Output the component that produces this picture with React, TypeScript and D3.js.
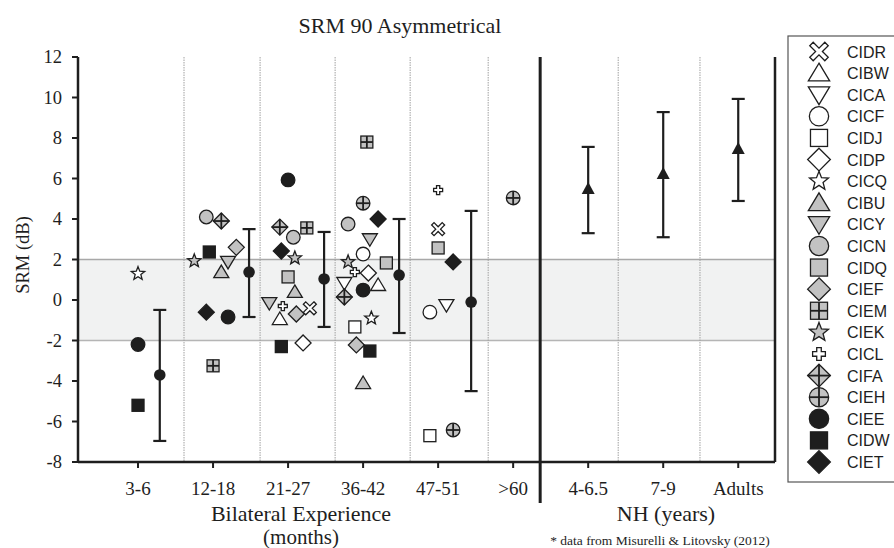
import React from 'react';
import * as d3 from 'd3';

// ---------- data ----------
const categories = ['3-6', '12-18', '21-27', '36-42', '47-51', '>60', '4-6.5', '7-9', 'Adults'];
const yTicks = [-8, -6, -4, -2, 0, 2, 4, 6, 8, 10, 12];
const subjects = ['CIDR', 'CIBW', 'CICA', 'CICF', 'CIDJ', 'CIDP', 'CICQ', 'CIBU', 'CICY', 'CICN',
  'CIDQ', 'CIEF', 'CIEM', 'CIEK', 'CICL', 'CIFA', 'CIEH', 'CIEE', 'CIDW', 'CIET'];
// [shape, fill-kind]
const subjectShapes: Record<string, [string, string]> = {
  CIDR: ['x', 'open'], CIBW: ['tri', 'open'], CICA: ['tridown', 'open'], CICF: ['circle', 'open'],
  CIDJ: ['square', 'open'], CIDP: ['diamond', 'open'], CICQ: ['star', 'open'], CIBU: ['tri', 'gray'],
  CICY: ['tridown', 'gray'], CICN: ['circle', 'gray'], CIDQ: ['square', 'gray'], CIEF: ['diamond', 'gray'],
  CIEM: ['squarecross', 'gray'], CIEK: ['star', 'gray'], CICL: ['plus', 'open'], CIFA: ['diamondcross', 'gray'],
  CIEH: ['circlecross', 'gray'], CIEE: ['circle', 'black'], CIDW: ['square', 'black'], CIET: ['diamond', 'black'],
};
// individual CI points: [subject, x position (category units), SRM dB]
const ciPoints: [string, number, number][] = [
  ['CICQ', 0.0, 1.3], ['CIEE', 0.0, -2.2], ['CIDW', 0.0, -5.2],
  ['CICN', 0.91, 4.1], ['CIFA', 1.11, 3.9], ['CIDW', 0.95, 2.37], ['CIEF', 1.31, 2.6], ['CIEK', 0.75, 1.93],
  ['CICY', 1.2, 1.88], ['CIBU', 1.11, 1.38], ['CIET', 0.91, -0.6], ['CIEE', 1.2, -0.84], ['CIEM', 1.0, -3.25],
  ['CIEE', 2.0, 5.93], ['CIFA', 1.89, 3.6], ['CIEM', 2.25, 3.56], ['CICN', 2.07, 3.1], ['CIET', 1.91, 2.42],
  ['CIEK', 2.09, 2.07], ['CIDQ', 2.0, 1.14], ['CIBU', 2.09, 0.4], ['CICY', 1.75, -0.15], ['CICL', 1.93, -0.3],
  ['CIDR', 2.29, -0.41], ['CIEF', 2.11, -0.69], ['CIBW', 1.89, -0.94], ['CIDW', 1.91, -2.3], ['CIDP', 2.2, -2.12],
  ['CIEM', 3.05, 7.8], ['CIEH', 3.0, 4.78], ['CIET', 3.2, 4.0], ['CICN', 2.8, 3.75], ['CICY', 3.09, 3.0],
  ['CICF', 3.0, 2.27], ['CIEK', 2.8, 1.88], ['CIDQ', 3.31, 1.83], ['CICL', 2.89, 1.38], ['CIDP', 3.07, 1.33],
  ['CIBW', 3.2, 0.74], ['CIEE', 3.0, 0.49], ['CICA', 2.75, 0.84], ['CIFA', 2.75, 0.15], ['CICQ', 3.11, -0.9],
  ['CIDJ', 2.89, -1.33], ['CIEF', 2.91, -2.22], ['CIDW', 3.09, -2.52], ['CIBU', 3.0, -4.1],
  ['CICL', 4.0, 5.43], ['CIDR', 4.0, 3.5], ['CIDQ', 4.0, 2.57], ['CIET', 4.2, 1.88], ['CICF', 3.89, -0.6],
  ['CICA', 4.11, -0.25], ['CIDJ', 3.89, -6.7], ['CIEH', 4.2, -6.42],
  ['CIEH', 5.0, 5.04],
];
// group means: [x, mean, upper, lower]
const ciMeans: [number, number, number, number][] = [
  [0.29, -3.7, -0.49, -6.96],
  [1.48, 1.38, 3.5, -0.84],
  [2.48, 1.04, 3.36, -1.33],
  [3.48, 1.23, 4.0, -1.63],
  [4.44, -0.1, 4.4, -4.5],
];
const nhMeans: [number, number, number, number][] = [
  [6, 5.48, 7.56, 3.3],
  [7, 6.22, 9.28, 3.1],
  [8, 7.46, 9.93, 4.89],
];
const gridPositions = [0.613, 1.627, 2.627, 3.627, 4.667, 6.4, 7.49];
const dividerPosition = 5.36;
const bandRange = [-2, 2];

// ---------- layout ----------
const W = 894, H = 548;
const x = d3.scaleLinear().domain([-0.8, 8.49]).range([78, 775]);
const y = d3.scaleLinear().domain([-8, 12]).range([462, 57]);

const GRAY = '#c2c2c2';
const INK = '#1e1e1e';
const serif = '"Liberation Serif", "Times New Roman", serif';
const sans = '"Liberation Sans", Arial, sans-serif';

function starPath(ro: number, ri: number) {
  const pts: string[] = [];
  for (let i = 0; i < 10; i++) {
    const r = i % 2 === 0 ? ro : ri;
    const a = -Math.PI / 2 + (i * Math.PI) / 5;
    pts.push(`${(r * Math.cos(a)).toFixed(2)},${(r * Math.sin(a)).toFixed(2)}`);
  }
  return 'M' + pts.join('L') + 'Z';
}
function plusPath(l: number, w: number) {
  return `M${-w},${-l}H${w}V${-w}H${l}V${w}H${w}V${l}H${-w}V${w}H${-l}V${-w}H${-w}Z`;
}

function Sym({ subject, cx, cy, k = 1 }: { subject: string; cx: number; cy: number; k?: number }) {
  const [shape, kind] = subjectShapes[subject];
  const fill = kind === 'open' ? '#fff' : kind === 'gray' ? GRAY : INK;
  const sw = 1.3;
  const common = { fill, stroke: INK, strokeWidth: sw };
  let el: React.ReactNode = null;
  switch (shape) {
    case 'circle':
      el = <circle r={6.8 * k} {...common} />; break;
    case 'square':
      el = <rect x={-6 * k} y={-6 * k} width={12 * k} height={12 * k} {...common} />; break;
    case 'diamond':
      el = <path d={`M0,${-8 * k}L${8 * k},0L0,${8 * k}L${-8 * k},0Z`} {...common} />; break;
    case 'tri':
      el = <path d={`M0,${-7 * k}L${7.5 * k},${5.5 * k}L${-7.5 * k},${5.5 * k}Z`} {...common} />; break;
    case 'tridown':
      el = <path d={`M0,${7 * k}L${7.5 * k},${-5.5 * k}L${-7.5 * k},${-5.5 * k}Z`} {...common} />; break;
    case 'star':
      el = <path d={starPath(7 * k, 3 * k)} {...common} />; break;
    case 'plus':
      el = <path d={plusPath(4.5 * k, 1.6 * k)} {...common} />; break;
    case 'x':
      el = <path d={plusPath(7.5 * k, 1.7 * k)} transform="rotate(45)" {...common} />; break;
    case 'squarecross':
      el = (<g>
        <rect x={-6 * k} y={-6 * k} width={12 * k} height={12 * k} {...common} />
        <line x1={0} x2={0} y1={-6 * k} y2={6 * k} stroke={INK} strokeWidth={1.8} />
        <line x1={-6 * k} x2={6 * k} y1={0} y2={0} stroke={INK} strokeWidth={1.8} />
      </g>); break;
    case 'diamondcross':
      el = (<g>
        <path d={`M0,${-8 * k}L${8 * k},0L0,${8 * k}L${-8 * k},0Z`} {...common} />
        <line x1={0} x2={0} y1={-8 * k} y2={8 * k} stroke={INK} strokeWidth={1.8} />
        <line x1={-8 * k} x2={8 * k} y1={0} y2={0} stroke={INK} strokeWidth={1.8} />
      </g>); break;
    case 'circlecross':
      el = (<g>
        <circle r={6.8 * k} {...common} />
        <line x1={0} x2={0} y1={-6.8 * k} y2={6.8 * k} stroke={INK} strokeWidth={1.8} />
        <line x1={-6.8 * k} x2={6.8 * k} y1={0} y2={0} stroke={INK} strokeWidth={1.8} />
      </g>); break;
  }
  return <g transform={`translate(${cx},${cy})`}>{el}</g>;
}

function ErrorBar({ cx, mean, hi, lo, marker }: { cx: number; mean: number; hi: number; lo: number; marker: 'circle' | 'tri' }) {
  const px = x(cx);
  return (
    <g stroke={INK} strokeWidth={2.2}>
      <line x1={px} x2={px} y1={y(hi)} y2={y(lo)} />
      <line x1={px - 6.5} x2={px + 6.5} y1={y(hi)} y2={y(hi)} />
      <line x1={px - 6.5} x2={px + 6.5} y1={y(lo)} y2={y(lo)} />
      {marker === 'circle'
        ? <circle cx={px} cy={y(mean)} r={5.8} fill={INK} stroke="none" />
        : <path d={`M${px},${y(mean) - 7}L${px + 6.5},${y(mean) + 5}L${px - 6.5},${y(mean) + 5}Z`} fill={INK} stroke="none" />}
    </g>
  );
}

export default function App() {
  const x0 = x.range()[0], x1 = x.range()[1];
  const yTop = y(12), yBot = y(-8);
  const legendY = d3.scaleLinear().domain([0, subjects.length - 1]).range([51.5, 462]);
  return (
    <svg width={W} height={H} style={{ position: 'absolute', left: 0, top: 0, background: '#fff' }}>
      <rect width={W} height={H} fill="#fff" />
      {/* title */}
      <text x={400} y={33} textAnchor="middle" fontFamily={serif} fontSize={22} fill={INK}>SRM 90 Asymmetrical</text>

      {/* shaded band */}
      <rect x={x0} y={y(bandRange[1])} width={x1 - x0} height={y(bandRange[0]) - y(bandRange[1])} fill="#f1f2f2" />
      <line x1={x0} x2={x1} y1={y(bandRange[1])} y2={y(bandRange[1])} stroke="#a8a8a8" strokeWidth={1.5} />
      <line x1={x0} x2={x1} y1={y(bandRange[0])} y2={y(bandRange[0])} stroke="#b5b5b5" strokeWidth={1.5} />

      {/* dotted grid */}
      {gridPositions.map((g, i) => (
        <line key={i} x1={x(g)} x2={x(g)} y1={yTop} y2={yBot} stroke="#a0a0a0" strokeWidth={1} strokeDasharray="1.5,1" />
      ))}

      {/* axes */}
      <line x1={x0} x2={x0} y1={yTop} y2={yBot} stroke={INK} strokeWidth={2.5} />
      <line x1={x0} x2={x1} y1={yBot} y2={yBot} stroke={INK} strokeWidth={2.5} />
      <line x1={x1} x2={x1} y1={yTop} y2={yBot} stroke={INK} strokeWidth={2.5} />
      <line x1={x(dividerPosition)} x2={x(dividerPosition)} y1={yTop} y2={503} stroke={INK} strokeWidth={3} />

      {yTicks.map(t => (
        <g key={t}>
          <line x1={x0 - 6} x2={x0} y1={y(t)} y2={y(t)} stroke={INK} strokeWidth={2} />
          <text x={62} y={y(t) + 6} textAnchor="end" fontFamily={serif} fontSize={18.5} fill={INK}>{t}</text>
        </g>
      ))}
      {categories.map((c, i) => (
        <g key={c}>
          <line x1={x(i)} x2={x(i)} y1={yBot} y2={yBot + 6} stroke={INK} strokeWidth={2} />
          <text x={x(i)} y={495} textAnchor="middle" fontFamily={serif} fontSize={19} fill={INK}>{c}</text>
        </g>
      ))}

      {/* axis titles */}
      <text transform={`translate(29,255) rotate(-90)`} textAnchor="middle" fontFamily={serif} fontSize={18.5} fill={INK}>SRM (dB)</text>
      <text x={301} y={521} textAnchor="middle" fontFamily={serif} fontSize={22} fill={INK}>Bilateral Experience</text>
      <text x={301} y={544} textAnchor="middle" fontFamily={serif} fontSize={21} fill={INK}>(months)</text>
      <text x={666} y={521} textAnchor="middle" fontFamily={serif} fontSize={22} fill={INK}>NH (years)</text>
      <text x={660} y={545} textAnchor="middle" fontFamily={serif} fontSize={13.5} fill={INK}>* data from Misurelli &amp; Litovsky (2012)</text>

      {/* points */}
      {ciPoints.map(([s, px, v], i) => (
        <Sym key={i} subject={s} cx={x(px)} cy={y(v)} />
      ))}
      {ciMeans.map(([cx, m, hi, lo], i) => (
        <ErrorBar key={'m' + i} cx={cx} mean={m} hi={hi} lo={lo} marker="circle" />
      ))}
      {nhMeans.map(([cx, m, hi, lo], i) => (
        <ErrorBar key={'n' + i} cx={cx} mean={m} hi={hi} lo={lo} marker="tri" />
      ))}

      {/* legend */}
      <rect x={788} y={36} width={120} height={446} fill="#fff" stroke="#555" strokeWidth={1.2} />
      {subjects.map((s, i) => (
        <g key={s}>
          <Sym subject={s} cx={819} cy={legendY(i)} k={1.42} />
          <text x={847} y={legendY(i) + 6} fontFamily={sans} fontSize={16} fill={INK}>{s}</text>
        </g>
      ))}
    </svg>
  );
}
